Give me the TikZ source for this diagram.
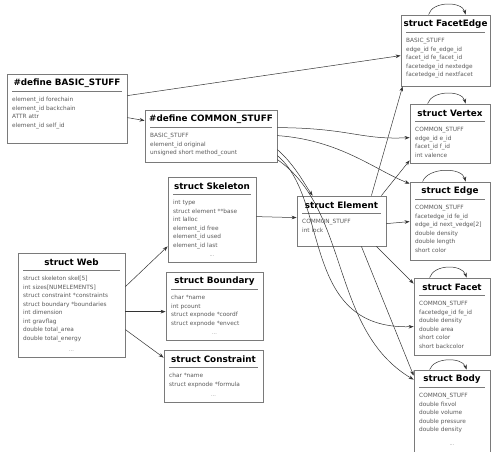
\documentclass[tikz,border=0pt]{standalone}
\usepackage{fontspec}
\setmainfont{DejaVu Sans}
\usetikzlibrary{arrows.meta,calc,fit}
\definecolor{boxgray}{HTML}{7A7A7A}
\definecolor{txtgray}{HTML}{5A5A5A}
\tikzset{
  boxst/.style={draw=boxgray,line width=0.8pt,inner sep=0pt,fill=white},
  titlest/.style={font=\fontsize{8.8}{9}\selectfont\bfseries,inner sep=0pt,text=black},
  bodyst/.style={font=\fontsize{5.8}{8.5}\selectfont,inner sep=0pt,text=txtgray,align=left,anchor=north west},
  dotst/.style={font=\fontsize{5}{6}\selectfont,inner sep=0pt,text=txtgray!70},
  sepst/.style={draw=boxgray,line width=0.8pt},
  conn/.style={draw=black!80,line width=0.5pt,-{Stealth[length=5pt,width=3.6pt]}},
}
% #1 name #2 left #3 top #4 right #5 bottom #6 title #7 body
\newcommand{\umlbox}[7]{%
  \node[boxst,fit={(#2,#3) (#4,#5)}] (#1) {};
  \node[titlest] (#1-t) at ({(#2+#4)/2},{#3+9.5}) {#6};
  \draw[sepst] ({#2+5},{#3+17.5}) -- ({#4-5},{#3+17.5});
  \node[bodyst] (#1-b) at ({#2+5},{#3+23.2}) {#7};
}
\begin{document}
\begin{tikzpicture}[x=1pt,y=-1pt]
\useasboundingbox (0,0) rectangle (494,451);
\fill[white] (0,0) rectangle (494,451);

\umlbox{basic}{7}{74}{127}{143}{\#define BASIC\_STUFF}{element\_id forechain\\element\_id backchain\\ATTR attr\\element\_id self\_id}
\umlbox{common}{145}{110}{277}{162}{\#define COMMON\_STUFF}{BASIC\_STUFF\\element\_id original\\unsigned short method\_count}
\umlbox{skel}{168}{177}{256}{262}{struct Skeleton}{int type\\struct element **base\\int lalloc\\element\_id free\\element\_id used\\element\_id last}
\node[dotst] (skel-d) at (212,256) {...};
\umlbox{bound}{166}{272}{263}{340}{struct Boundary}{char *name\\int pcount\\struct expnode *coordf\\struct expnode *envect}
\node[dotst] (bound-d) at (214.5,334) {...};
\umlbox{cons}{164}{350}{263}{402}{struct Constraint}{char *name\\struct expnode *formula}
\node[dotst] (cons-d) at (213.5,396) {...};
\umlbox{web}{18}{253}{125}{357}{struct Web}{struct skeleton skel[5]\\int sizes[NUMELEMENTS]\\struct constraint *constraints\\struct boundary *boundaries\\int dimension\\int gravflag\\double total\_area\\double total\_energy}
\node[dotst] (web-d) at (71.5,351) {...};
\umlbox{elem}{297}{196}{386}{246}{struct Element}{COMMON\_STUFF\\int lock}
\umlbox{fe}{401}{15}{490}{86}{struct FacetEdge}{BASIC\_STUFF\\edge\_id fe\_edge\_id\\facet\_id fe\_facet\_id\\facetedge\_id nextedge\\facetedge\_id nextfacet}
\umlbox{vert}{410}{104}{490}{163}{struct Vertex}{COMMON\_STUFF\\edge\_id e\_id\\facet\_id f\_id\\int valence}
\umlbox{edge}{410}{182}{490}{260}{struct Edge}{COMMON\_STUFF\\facetedge\_id fe\_id\\edge\_id next\_vedge[2]\\double density\\double length\\short color}
\umlbox{facet}{414}{278}{490}{355}{struct Facet}{COMMON\_STUFF\\facetedge\_id fe\_id\\double density\\double area\\short color\\short backcolor}
\umlbox{body}{414}{370}{490}{455}{struct Body}{COMMON\_STUFF\\double fixvol\\double volume\\double pressure\\double density}
\node[dotst] (body-d) at (452,445) {...};

% connectors
\draw[conn] ($(basic.north east)+(0,22)$) -- ($(fe.north west)+(0,41)$);
\draw[conn] ($(basic.north east)+(0,44)$) -- ($(common.north west)+(0,11)$);
\draw[conn] ($(common.north east)+(0,18)$) .. controls (350,128) and (360,140) .. ($(vert.north west)+(0,34)$);
\draw[conn] ($(common.north east)+(0,26)$) .. controls (340,140) and (375,170) .. ($(edge.north west)+(0,2)$);
\draw[conn] ($(common.north east)+(0,40)$) .. controls (295,165) and (305,185) .. ($(elem.north west)+(16,0)$);
\draw[conn] ($(common.north east)+(0,46)$) .. controls (330,200) and (300,330) .. ($(facet.north west)+(0,49)$);
\draw[conn] ($(common.north east)+(0,50)$) .. controls (350,210) and (330,330) .. ($(body.north west)+(0,10)$);
\draw[conn] ($(elem.north east)+(-15,0)$) -- ($(fe.south west)+(2,0)$);
\draw[conn] ($(elem.north east)+(-5,0)$) -- ($(vert.south west)+(0,-3)$);
\draw[conn] ($(elem.north east)+(0,28)$) -- ($(edge.north west)+(0,40)$);
\draw[conn] ($(elem.south east)+(-10,0)$) -- ($(facet.north west)+(0,6)$);
\draw[conn] ($(elem.south east)+(-25,0)$) -- ($(body.north west)+(0,6)$);
\draw[conn] ($(skel.north east)+(0,40)$) -- ($(elem.north west)+(0,22)$);
\draw[conn] ($(web.north east)+(0,34)$) -- ($(skel.south west)+(0,-16)$);
\draw[conn] ($(web.north east)+(0,59)$) -- ($(bound.north west)+(0,40)$);
\draw[conn] ($(web.north east)+(0,77)$) -- ($(cons.north west)+(0,8)$);
% self loops
\draw[conn] ($(fe.north west)+(28,0)$) .. controls (432,1) and (462,1) .. ($(fe.north west)+(65,0)$);
\draw[conn] ($(vert.north west)+(18,0)$) .. controls (432,90) and (462,90) .. ($(vert.north west)+(56,0)$);
\draw[conn] ($(edge.north west)+(13,0)$) .. controls (428,167) and (462,167) .. ($(edge.north west)+(56,0)$);
\draw[conn] ($(facet.north west)+(16,0)$) .. controls (434,264) and (462,264) .. ($(facet.north west)+(53,0)$);
\draw[conn] ($(body.north west)+(16,0)$) .. controls (434,357) and (462,357) .. ($(body.north west)+(53,0)$);
\end{tikzpicture}
\end{document}
